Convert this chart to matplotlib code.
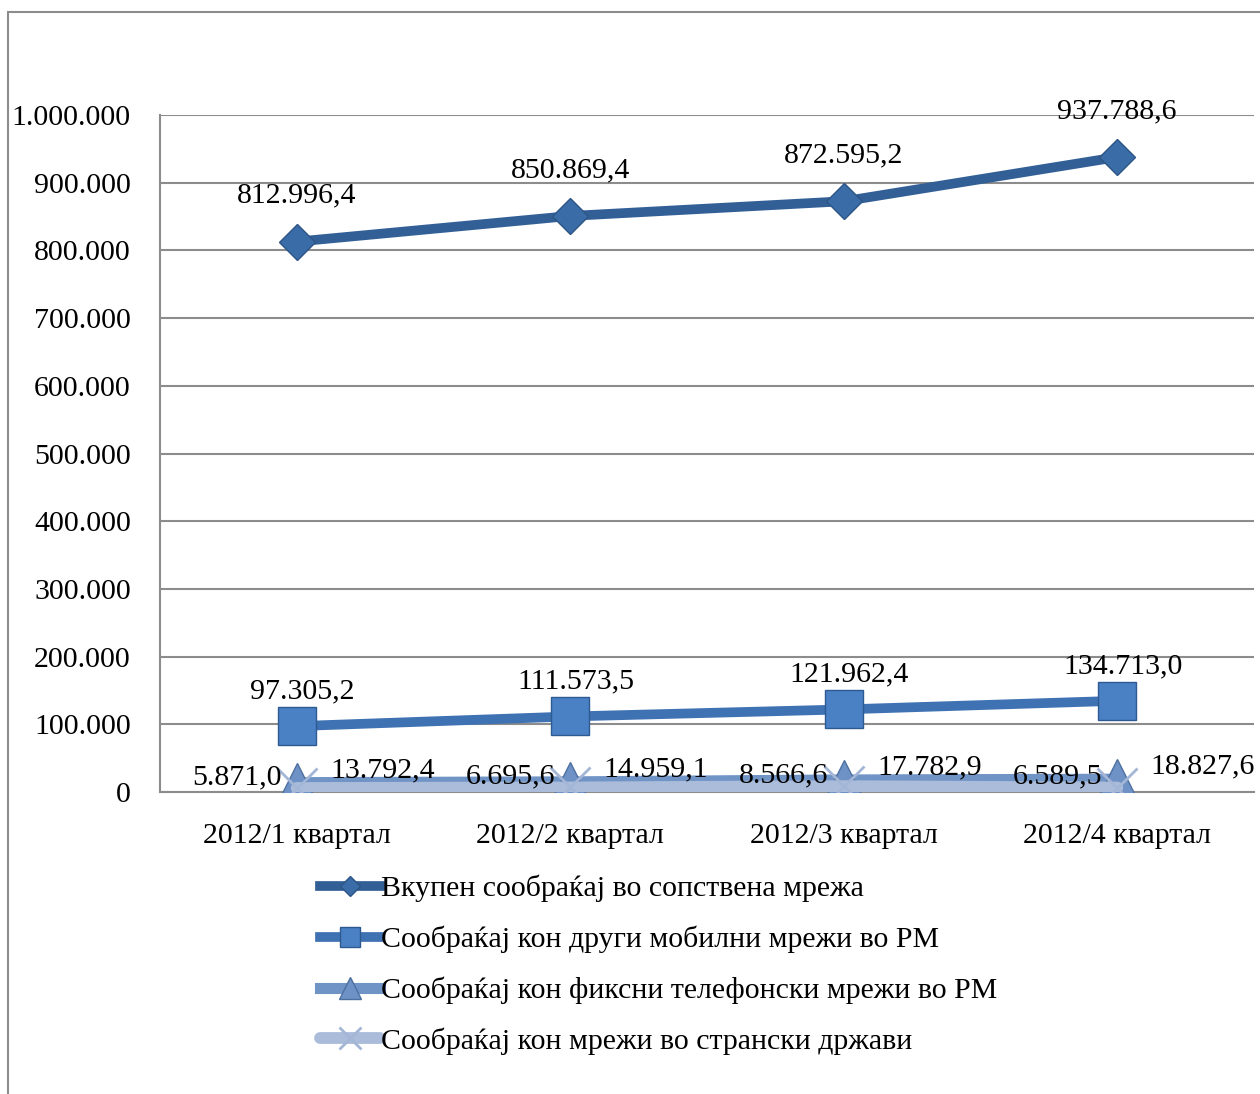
import matplotlib
matplotlib.use("Agg")
import matplotlib.pyplot as plt
from matplotlib.patches import Rectangle

categories = ["2012/1 квартал", "2012/2 квартал", "2012/3 квартал", "2012/4 квартал"]
series_names = [
    "Вкупен сообраќај во сопствена мрежа",
    "Сообраќај кон други мобилни мрежи во РМ",
    "Сообраќај кон фиксни телефонски мрежи во РМ",
    "Сообраќај кон мрежи во странски држави",
]
own_net = [812996.4, 850869.4, 872595.2, 937788.6]
other_mobile = [97305.2, 111573.5, 121962.4, 134713.0]
fixed_rm = [13792.4, 14959.1, 17782.9, 18827.6]
foreign = [5871.0, 6695.6, 8566.6, 6589.5]
yticks = [0, 100000, 200000, 300000, 400000, 500000, 600000, 700000, 800000, 900000, 1000000]


def fmt(v, dec=True):
    s = f"{v:,.1f}" if dec else f"{v:,.0f}"
    return s.replace(",", "X").replace(".", ",").replace("X", ".")


plt.rcParams['font.family'] = ['Liberation Serif', 'DejaVu Serif']
FS = 21.5

W, H = 1260, 1094
fig = plt.figure(figsize=(W / 100, H / 100), dpi=100)
fig.patches.append(Rectangle((7.5 / W, -0.1), 2, (H - 12) / H + 0.1, transform=fig.transFigure,
                             fill=False, edgecolor='#8c8c8c', linewidth=1.5))

ax = fig.add_axes([160 / W, 1 - 792 / H, (1254 - 160) / W, (792 - 115) / H])
x = list(range(len(categories)))

ax.set_xlim(-0.5, 3.5)
ax.set_ylim(0, 1000000)
ax.set_yticks(yticks)
ax.set_yticklabels([fmt(t, False) for t in yticks], fontsize=FS)
ax.set_xticks(x)
ax.set_xticklabels(categories, fontsize=FS)
ax.tick_params(axis='both', length=0)
ax.tick_params(axis='x', pad=22)
ax.tick_params(axis='y', pad=21)
ax.grid(axis='y', color='#8c8c8c', linewidth=1.5)
ax.set_axisbelow(True)
for s in ['top', 'right']:
    ax.spines[s].set_visible(False)
for s in ['left', 'bottom']:
    ax.spines[s].set_color('#8c8c8c')
    ax.spines[s].set_linewidth(1.5)

c1, c2, c3, c4 = '#325F96', '#3E72B2', '#7194C7', '#AABCDA'
l1, = ax.plot(x, own_net, color=c1, lw=7, marker='D', markersize=18,
              markerfacecolor='#3A6DA8', markeredgecolor='#2C5586', markeredgewidth=1, zorder=5)
l2, = ax.plot(x, other_mobile, color=c2, lw=7, marker='s', markersize=27,
              markerfacecolor='#4A80C4', markeredgecolor='#2E5A92', markeredgewidth=1, zorder=5)
l3, = ax.plot(x, fixed_rm, color=c3, lw=8, marker='^', markersize=29,
              markerfacecolor='#6F92C6', markeredgecolor='#4E70A0', markeredgewidth=1, zorder=5)
l4, = ax.plot(x, foreign, color=c4, lw=8.5, marker='x', markersize=29,
              markeredgecolor='#A3B6D6', markeredgewidth=2, zorder=6, solid_capstyle='round')

for xi, v in zip(x, own_net):
    ax.annotate(fmt(v), (xi, v), xytext=(0, 33), textcoords='offset points',
                ha='center', va='center', fontsize=FS, zorder=7)
for xi, v in zip(x, other_mobile):
    ax.annotate(fmt(v), (xi, v), xytext=(4, 25), textcoords='offset points',
                ha='center', va='center', fontsize=FS, zorder=7)
for xi, v in zip(x, fixed_rm):
    ax.annotate(fmt(v), (xi, v), xytext=(24, 9), textcoords='offset points',
                ha='left', va='center', fontsize=FS, zorder=7)
for xi, v in zip(x, foreign):
    ax.annotate(fmt(v), (xi, v), xytext=(-11, 8), textcoords='offset points',
                ha='right', va='center', fontsize=FS, zorder=7)

leg = fig.legend([l1, l2, l3, l4], series_names, loc='upper left',
                 bbox_to_anchor=(308 / W, 1 - 863 / H), frameon=False, fontsize=FS,
                 handlelength=2.0, handletextpad=0.05, labelspacing=0.78, markerscale=0.55,
                 borderaxespad=0)

fig.savefig('out.png', dpi=100)
